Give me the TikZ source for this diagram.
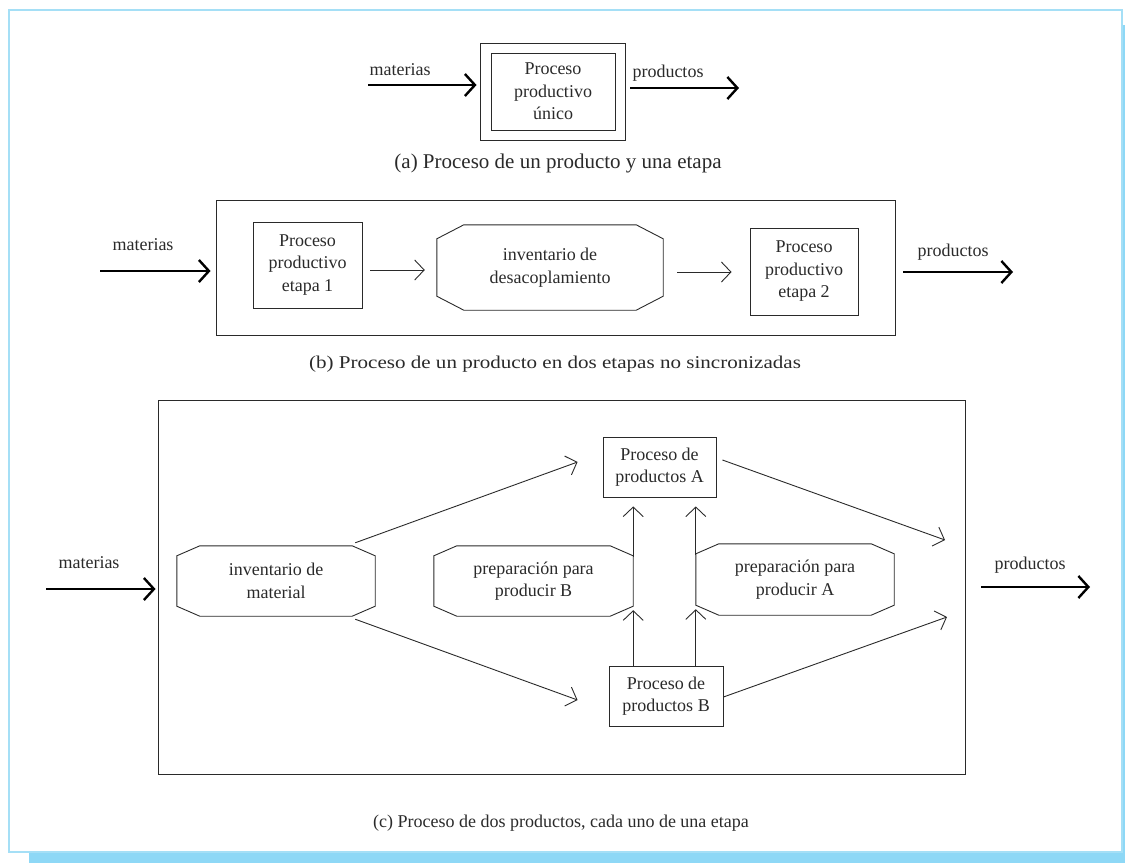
\documentclass[tikz,border=0pt]{standalone}
\usepackage{fontspec}
\setmainfont{Liberation Serif}
\usetikzlibrary{arrows.meta,calc}
\definecolor{frameblue}{HTML}{A5DFF6}
\definecolor{shadowblue}{HTML}{8ED8F6}
\definecolor{ink}{HTML}{2A2A2A}
\newcommand\drawoct[3]{%
  \draw[ink,line width=0.9pt] ([xshift=#2]#1.north west) -- ([xshift=-#2]#1.north east)
   -- ([yshift=-#3]#1.north east) -- ([yshift=#3]#1.south east)
   -- ([xshift=-#2]#1.south east) -- ([xshift=#2]#1.south west)
   -- ([yshift=#3]#1.south west) -- ([yshift=-#3]#1.north west) -- cycle;}
\tikzset{
  lbl/.style={font=\fontsize{18}{22.5}\selectfont, inner sep=0pt, text=ink},
  box/.style={draw=ink, line width=0.9pt, align=center, font=\fontsize{18}{22.5}\selectfont, inner sep=0pt, text=ink},
  octnode/.style={align=center, font=\fontsize{18}{22.5}\selectfont, inner sep=0pt, text=ink},
  framebox/.style={draw=ink, line width=0.9pt, inner sep=0pt},
  bigarrow/.style={line width=2.4pt, -{Straight Barb[length=10pt,width=22pt,line width=2.4pt]}},
  thinarrow/.style={ink, line width=0.9pt, -{Straight Barb[length=9.5pt,width=20pt,line width=0.9pt]}},
  captxt/.style={font=\fontsize{21}{25}\selectfont, inner sep=0pt, text=ink},
  captsmall/.style={font=\fontsize{18}{21}\selectfont, inner sep=0pt, text=ink}
}
\begin{document}
\begin{tikzpicture}[x=1pt,y=-1pt]
\useasboundingbox (0,0) rectangle (1125,863);
% page frame
\fill[shadowblue] (29,852) rectangle (1125,863);
\fill[shadowblue] (1122,25) rectangle (1125,863);
\draw[frameblue,line width=1.5pt] (9,10) rectangle (1122,852);

% ---------- (a)
\node[framebox, minimum width=145pt, minimum height=97pt] (aout) at (552.5,91.7) {};
\node[box, minimum width=124pt, minimum height=77pt] (ain) at (553,91.5) {Proceso\\productivo\\único};
\node[lbl] (amat) at (400,70) {materias};
\coordinate (astart) at (368,85);
\draw[bigarrow] (astart) -- ($(astart -| aout.west)+(-3,0)$);
\node[lbl] (aprod) at (668,73) {productos};
\coordinate (aend) at (739,88);
\draw[bigarrow] ($(aout.east |- aend)+(5,0)$) -- (aend);
\node[captxt] (acap) at (558,163) {(a) Proceso de un producto y una etapa};

% ---------- (b)
\node[framebox, minimum width=679pt, minimum height=135pt] (bout) at (555.5,267.5) {};
\node[box, minimum width=109pt, minimum height=86pt] (b1) at (307.5,265) {Proceso\\productivo\\etapa 1};
\node[octnode, minimum width=226pt, minimum height=85pt] (boc) at (550,267.5) {inventario de\\desacoplamiento};
\drawoct{boc}{27pt}{14pt}
\node[box, minimum width=108pt, minimum height=87pt] (b2) at (804,271.5) {Proceso\\productivo\\etapa 2};
\node[lbl] (bmat) at (143,245) {materias};
\coordinate (bstart) at (100,271);
\draw[bigarrow] (bstart) -- ($(bstart -| bout.west)+(-5,0)$);
\draw[thinarrow] ($(b1.east)+(8,5)$) -- ($(b1.east -| boc.west)+(-12,5)$);
\draw[thinarrow] ($(boc.east)+(14,4.5)$) -- ($(boc.east -| b2.west)+(-18,4.5)$);
\node[lbl] (bprod) at (953,252) {productos};
\coordinate (bend) at (1013,272);
\draw[bigarrow] ($(bout.east |- bend)+(8,0)$) -- (bend);
\node[captsmall] (bcap) at (555,364) {\scalebox{1.17}[1]{(b) Proceso de un producto en dos etapas no sincronizadas}};

% ---------- (c)
\node[framebox, minimum width=807pt, minimum height=374pt] (cout) at (561.5,587) {};
\node[octnode, minimum width=198pt, minimum height=70pt] (inv) at (276,581) {inventario de\\material};
\drawoct{inv}{23pt}{10pt}
\node[octnode, minimum width=199pt, minimum height=70pt] (prb) at (533.5,581) {preparación para\\producir B};
\drawoct{prb}{23pt}{10pt}
\node[octnode, minimum width=198pt, minimum height=71pt] (pra) at (795,579.5) {preparación para\\producir A};
\drawoct{pra}{23pt}{10pt}
\node[box, minimum width=113pt, minimum height=60pt] (pa) at (659.5,467) {Proceso de\\productos A};
\node[box, minimum width=114pt, minimum height=60pt] (pb) at (666,696) {Proceso de\\productos B};
\node[lbl] (cmat) at (89,563) {materias};
\coordinate (cstart) at (46,589);
\draw[bigarrow] (cstart) -- ($(cstart -| cout.west)+(-2,0)$);
\node[lbl] (cprod) at (1030,565) {productos};
\coordinate (cend) at (1090,587);
\draw[bigarrow] ($(cout.east |- cend)+(16,0)$) -- (cend);
\draw[thinarrow] ($(inv.north east)+(-20,-3)$) -- ($(pa.west)+(-25,-5)$);
\draw[thinarrow] ($(inv.south east)+(-20,3)$) -- ($(pb.west)+(-31,4)$);
\coordinate (outA) at (945,540);
\coordinate (outB) at (947,617);
\draw[thinarrow] ($(pa.east)+(6,-7)$) -- (outA);
\draw[thinarrow] ($(pb.east)+(0,1)$) -- (outB);
\draw[thinarrow] (pb.north -| prb.east) -- ($(prb.south east)+(0,-6)$);
\draw[thinarrow] ($(prb.north east)+(0,11)$) -- ($(pa.south -| prb.east)+(0,9)$);
\draw[thinarrow] (pb.north -| pra.west) -- ($(pra.south west)+(0,-6)$);
\draw[thinarrow] ($(pra.north west)+(0,11)$) -- ($(pa.south -| pra.west)+(0,9)$);
\node[captsmall] (ccap) at (561,823) {(c) Proceso de dos productos, cada uno de una etapa};
\end{tikzpicture}
\end{document}
